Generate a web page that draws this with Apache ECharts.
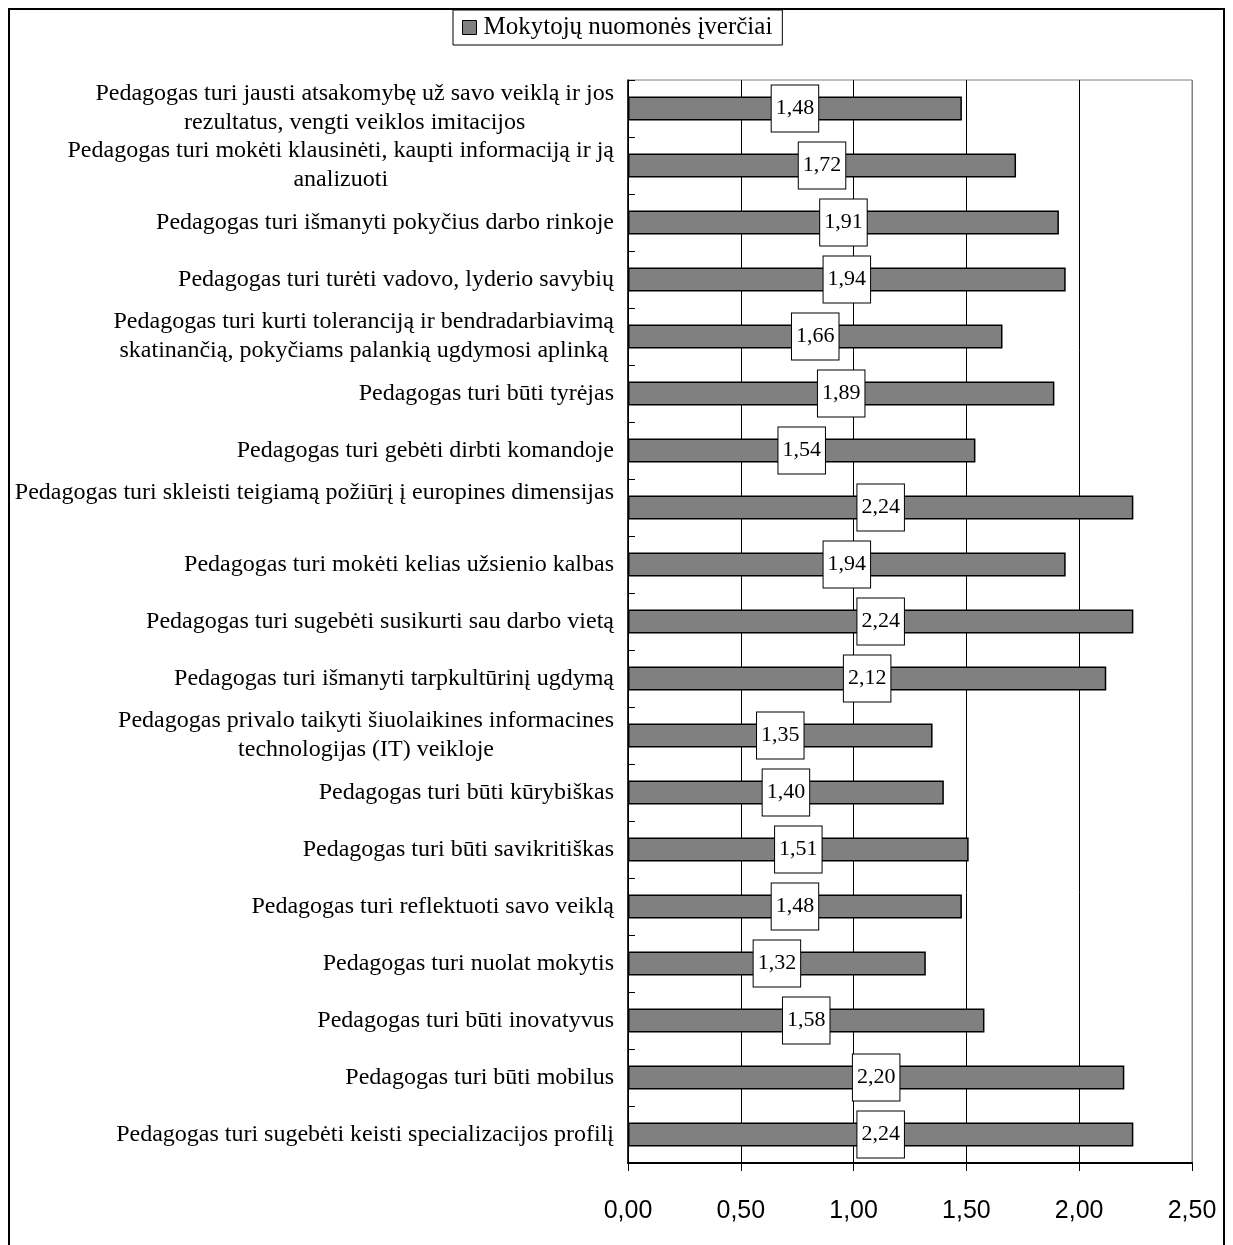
<!DOCTYPE html>
<html><head><meta charset="utf-8">
<script src="https://cdn.jsdelivr.net/npm/echarts@6/dist/echarts.min.js"></script>
<style>html,body{margin:0;padding:0;background:#fff}#c{width:1233px;height:1245px}</style>
</head><body><div id="c"></div>
<script>
const categories = [
  "Pedagogas turi jausti atsakomybę už savo veiklą ir jos\nrezultatus, vengti veiklos imitacijos",
  "Pedagogas turi mokėti klausinėti, kaupti informaciją ir ją\nanalizuoti",
  "Pedagogas turi išmanyti pokyčius darbo rinkoje",
  "Pedagogas turi turėti vadovo, lyderio savybių",
  "Pedagogas turi kurti toleranciją ir bendradarbiavimą\nskatinančią, pokyčiams palankią ugdymosi aplinką",
  "Pedagogas turi būti tyrėjas",
  "Pedagogas turi gebėti dirbti komandoje",
  "Pedagogas turi skleisti teigiamą požiūrį į europines dimensijas\n\u00a0",
  "Pedagogas turi mokėti kelias užsienio kalbas",
  "Pedagogas turi sugebėti susikurti sau darbo vietą",
  "Pedagogas turi išmanyti tarpkultūrinį ugdymą",
  "Pedagogas privalo taikyti šiuolaikines informacines\ntechnologijas (IT) veikloje",
  "Pedagogas turi būti kūrybiškas",
  "Pedagogas turi būti savikritiškas",
  "Pedagogas turi reflektuoti savo veiklą",
  "Pedagogas turi nuolat mokytis",
  "Pedagogas turi būti inovatyvus",
  "Pedagogas turi būti mobilus",
  "Pedagogas turi sugebėti keisti specializacijos profilį"
];
const seriesName = "Mokytojų nuomonės įverčiai";
const values = [1.48,1.72,1.91,1.94,1.66,1.89,1.54,2.24,1.94,2.24,2.12,1.35,1.40,1.51,1.48,1.32,1.58,2.20,2.24];
const xTicks = {min:0, max:2.5, interval:0.5};

const fmt = v => v.toFixed(2).replace('.', ',');
const richLabel = s => s.split('\n').map(l => '{c|' + l + '}').join('\n');
const chart = echarts.init(document.getElementById('c'));
chart.setOption({
  animation:false,
  backgroundColor:'#fff',
  graphic:[{type:'rect', shape:{x:9,y:9,width:1215,height:1250}, style:{fill:'none', stroke:'#000', lineWidth:2}, z:-1}],
  legend:{
    top:10, left:453, data:[seriesName],
    icon:'rect', itemWidth:14, itemHeight:14, itemGap:4,
    itemStyle:{color:'#808080', borderColor:'#000', borderWidth:1},
    borderColor:'#000', borderWidth:1, padding:[5,10,5,9],
    textStyle:{fontFamily:'Liberation Serif', fontSize:25, color:'#000', padding:[0,0,0,2]}
  },
  grid:{left:628, right:41, top:80, bottom:82, show:true, borderColor:'#808080', borderWidth:1},
  xAxis:{
    type:'value', min:xTicks.min, max:xTicks.max, interval:xTicks.interval,
    axisLine:{show:true, lineStyle:{color:'#000', width:2}},
    axisTick:{show:true, length:8, lineStyle:{color:'#000'}},
    axisLabel:{formatter:fmt, fontFamily:'Liberation Sans', fontSize:25, color:'#000', margin:36},
    splitLine:{show:true, lineStyle:{color:['#000','#000','#000','#000','#000','#808080'], width:1}}
  },
  yAxis:[{
    type:'category', data:categories, inverse:true,
    axisLine:{show:true, lineStyle:{color:'#000', width:1.5}},
    axisTick:{show:true, inside:true, length:7, lineStyle:{color:'#000'}},
    axisLabel:{interval:0, formatter:richLabel, fontFamily:'Liberation Serif', fontSize:24, color:'#000',
      lineHeight:29, align:'right', margin:14,
      rich:{c:{align:'center', fontFamily:'Liberation Serif', fontSize:24, color:'#000', lineHeight:29}}}
  },{
    type:'category', data:categories, inverse:true, position:'left',
    axisLine:{show:false},
    axisTick:{show:true, inside:true, length:7, alignWithLabel:true, lineStyle:{color:'#000'}},
    axisLabel:{show:false}
  }],
  series:[{
    name:seriesName, type:'bar', data:values, barWidth:24,
    itemStyle:{color:'#808080', borderColor:'#000', borderWidth:1.5},
    label:{show:true, position:'inside', formatter:p=>fmt(p.value),
      fontFamily:'Liberation Serif', fontSize:22, color:'#000', lineHeight:22,
      backgroundColor:'#fff', borderColor:'#000', borderWidth:1, padding:[12,4,12,4]}
  }]
});
</script></body></html>
